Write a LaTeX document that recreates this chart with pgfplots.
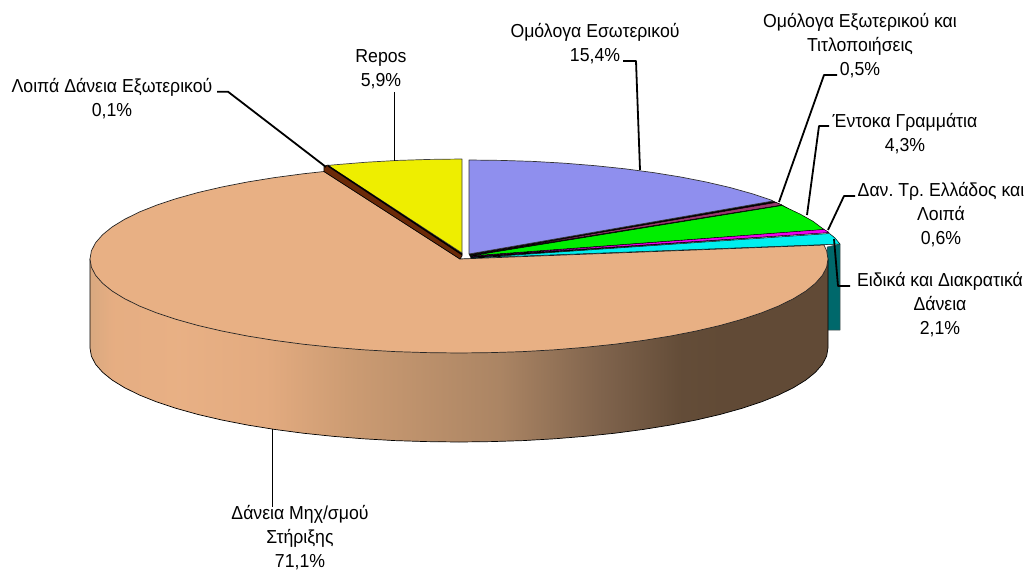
\documentclass[border=0pt]{standalone}
\usepackage{pgfplots}
\pgfplotsset{compat=1.18}
\usepackage{fontspec}
\setmainfont[FakeStretch=0.94]{Liberation Sans}
\pgfdeclarehorizontalshading{pieside}{100bp}{
rgb(0bp)=(.85,.66,.50);
rgb(25bp)=(.85,.66,.50);
rgb(26.5bp)=(.90,.68,.51);
rgb(31bp)=(.91,.69,.52);
rgb(37bp)=(.89,.67,.50);
rgb(42.6bp)=(.80,.61,.45);
rgb(52.8bp)=(.67,.52,.39);
rgb(59.6bp)=(.50,.39,.30);
rgb(65bp)=(.39,.30,.22);
rgb(68bp)=(.38,.29,.21);
rgb(100bp)=(.38,.29,.21)}
\definecolor{peach}{RGB}{232,176,132}
\definecolor{blueS}{RGB}{143,143,238}
\definecolor{yel}{RGB}{238,238,0}
\definecolor{brownS}{RGB}{107,42,8}
\definecolor{purp}{RGB}{153,56,110}
\definecolor{grn}{RGB}{0,238,0}
\definecolor{mag}{RGB}{238,0,238}
\definecolor{cya}{RGB}{0,238,238}
\definecolor{tealS}{RGB}{0,104,107}
\begin{document}
\frenchspacing
\begin{tikzpicture}[x=1pt,y=1pt,lab/.style={align=center,inner sep=0pt,font=\fontsize{18.8}{24}\selectfont}]
\path[use as bounding box] (0,0) rectangle (1033,571);
\begin{axis}[at={(0,0)},anchor=south west,width=1033pt,height=571pt,scale only axis,
  hide axis,clip=false,xmin=0,xmax=1033,ymin=0,ymax=571,y dir=reverse,
  every axis plot/.append style={no markers,line join=round}]
% teal side of the exploded slice
\addplot[fill=tealS,draw=black!70,line width=.5pt] coordinates {(840,244)(840,330)(827,330)(827,247)} -- cycle;
% peach side
\addplot[shade,shading=pieside,draw=black,line width=.7pt] coordinates {
(90,259)(90,348)(91.4,356.2)(95.6,364.3)(102.6,372.3)(112.2,380.1)(124.6,387.7)(139.4,395)(156.7,401.9)
(176.3,408.4)(198.1,414.5)(221.8,420)(247.3,425)(274.5,429.4)(303.1,433.2)(332.8,436.3)(363.5,438.8)
(394.9,440.6)(426.8,441.6)(459,442)(491.2,441.6)(523.1,440.6)(554.5,438.8)(585.2,436.3)(614.9,433.2)
(643.5,429.4)(670.7,425)(696.2,420)(719.9,414.5)(741.7,408.4)(761.3,401.9)(778.6,395)(793.4,387.7)
(805.8,380.1)(815.4,372.3)(822.4,364.3)(826.6,356.2)(828,348)(828,259)} -- cycle;
% peach top
\addplot[fill=peach,draw=black!85,line width=.7pt] coordinates {
(460,259)(324,171.5)(303.1,173.8)(274.5,177.6)(247.3,182)(221.8,187)(198.1,192.5)(176.3,198.6)(156.7,205.1)
(139.4,212)(124.6,219.3)(112.2,226.9)(102.6,234.7)(95.6,242.7)(91.4,250.8)(90,259)(91.4,267.2)(95.6,275.3)
(102.6,283.3)(112.2,291.1)(124.6,298.7)(139.4,306)(156.7,312.9)(176.3,319.4)(198.1,325.5)(221.8,331)
(247.3,336)(274.5,340.4)(303.1,344.2)(332.8,347.3)(363.5,349.8)(394.9,351.6)(426.8,352.6)(459,353)
(491.2,352.6)(523.1,351.6)(554.5,349.8)(585.2,347.3)(614.9,344.2)(643.5,340.4)(670.7,336)(696.2,331)
(719.9,325.5)(741.7,319.4)(761.3,312.9)(778.6,306)(793.4,298.7)(805.8,291.1)(815.4,283.3)(822.4,275.3)
(826.6,267.2)(828,259)(826.6,250.8)(824,245)} -- cycle;
% thin brown slice
\addplot[fill=brownS,draw=black,line width=.6pt] coordinates {(324,166.5)(328,165)(462,253)(462,256)(460,259)(324,171.5)} -- cycle;
% yellow
\addplot[fill=yel,draw=black!75,line width=.7pt] coordinates {(462,253)(328,165.4)(335.8,164.7)(366.5,162.2)(397.9,160.4)(429.8,159.4)(462,159)} -- cycle;
\addplot[black,line width=1.5pt] coordinates {(328,165.8)(462,254.5)};
% dark fan under the small slices
\addplot[fill=black,draw=black,line width=.4pt] coordinates {(469,254)(773,201)(782,205)(824,229.5)(829,232.5)(471,258)} -- cycle;
% blue
\addplot[fill=blueS,draw=black!80,line width=.7pt] coordinates {(469,254)(469,160)(501.2,160.4)(533.1,161.4)(564.5,163.2)(595.2,165.7)(624.9,168.8)(653.5,172.6)(680.7,177)(706.2,182)(729.9,187.5)(751.7,193.6)(771.3,200.1)(773,201)} -- cycle;
% purple
\addplot[fill=purp,draw=black,line width=.4pt] coordinates {(470,255)(776,202.5)(782,205)} -- cycle;
% green
\addplot[fill=grn,draw=black,line width=.5pt] coordinates {(470,256)(782,205.5)(800,214)(813,221.3)(824,229.5)} -- cycle;
% magenta
\addplot[fill=mag,draw=black,line width=.3pt] coordinates {(470,256.5)(824,229.5)(829,232.5)} -- cycle;
% cyan
\addplot[fill=cya,draw=black,line width=.5pt] coordinates {(471,258)(829.5,233.5)(835,238)(840,244)} -- cycle;
% leader lines
\addplot[black,line width=1.8pt] coordinates {(217,91.7)(228,91.7)(326,167)};
\addplot[black,line width=1.8pt] coordinates {(394.5,92)(394.5,161)};
\addplot[black,line width=1.8pt] coordinates {(623,61)(636,61)(640,170)};
\addplot[black,line width=1.8pt] coordinates {(837,75)(824,75)(779,202)};
\addplot[black,line width=1.8pt] coordinates {(829,126)(819,126)(807,215)};
\addplot[black,line width=1.8pt] coordinates {(855,196)(844,196)(828,230)};
\addplot[black,line width=1.8pt] coordinates {(850,286)(838,286)(834,239)};
\addplot[black,line width=1.8pt] coordinates {(272.5,429)(272.5,507)};
% labels
\node[lab] at (axis cs:112,98.5) {Λοιπά Δάνεια Εξωτερικού\\0,1\%};
\node[lab] at (axis cs:381,69) {Repos\\5,9\%};
\node[lab] at (axis cs:595,43.5) {Ομόλογα Εσωτερικού\\15,4\%};
\node[lab] at (axis cs:860,45.5) {Ομόλογα Εξωτερικού και\\Τιτλοποιήσεις\\0,5\%};
\node[lab] at (axis cs:905,134) {Έντοκα Γραμμάτια\\4,3\%};
\node[lab] at (axis cs:941,215) {Δαν. Τρ. Ελλάδος και\\Λοιπά\\0,6\%};
\node[lab] at (axis cs:940,305) {Ειδικά και Διακρατικά\\Δάνεια\\2,1\%};
\node[lab] at (axis cs:300,538) {Δάνεια Μηχ/σμού\\Στήριξης\\71,1\%};
\end{axis}
\end{tikzpicture}
\end{document}
